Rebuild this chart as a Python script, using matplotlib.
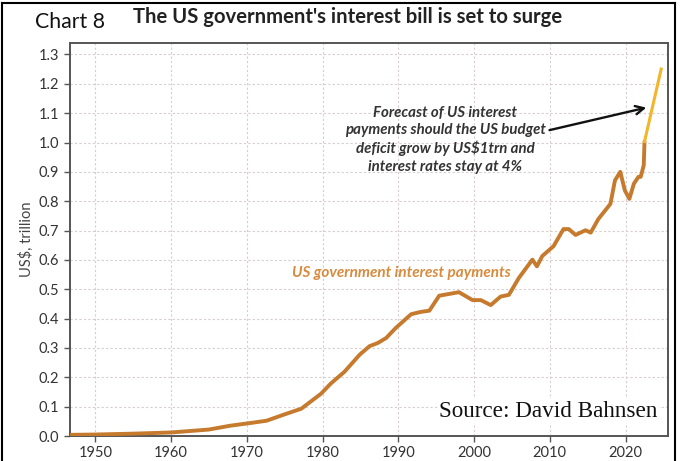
import matplotlib
matplotlib.use("Agg")
import matplotlib.pyplot as plt
from matplotlib.lines import Line2D

# Interest payments, US$ trillion
years = [1946.8, 1950, 1955, 1960, 1965, 1967.8, 1970.4, 1972.6, 1974.8,
         1977.2, 1979.8, 1981.1, 1982.9, 1984.9, 1986.2, 1987.3, 1988.4,
         1989.7, 1991.7, 1993.0, 1994.1, 1995.4, 1996.7, 1998.0, 1999.8,
         2000.9, 2002.2, 2003.5, 2004.6, 2005.9, 2007.7, 2008.3, 2009.0,
         2010.5, 2011.8, 2012.5, 2013.4, 2014.7, 2015.4, 2016.4, 2018.0,
         2018.6, 2019.3, 2019.9, 2020.5, 2021.1, 2021.7, 2022.0, 2022.4,
         2022.5]
payments = [0.004, 0.005, 0.008, 0.012, 0.022, 0.035, 0.044, 0.052, 0.072,
            0.093, 0.144, 0.179, 0.219, 0.277, 0.306, 0.317, 0.334,
            0.369, 0.415, 0.423, 0.427, 0.478, 0.484, 0.49, 0.463,
            0.463, 0.446, 0.475, 0.481, 0.538, 0.601, 0.578, 0.613,
            0.647, 0.705, 0.705, 0.685, 0.701, 0.693, 0.739, 0.791,
            0.871, 0.90, 0.837, 0.808, 0.86, 0.883, 0.883, 0.923,
            1.003]

forecast_years = [2022.5, 2024.7]
forecast_vals = [1.003, 1.25]

xticks = [1950, 1960, 1970, 1980, 1990, 2000, 2010, 2020]
yticks = [i / 10 for i in range(14)]

fig = plt.figure(figsize=(6.81, 4.61), dpi=100)
ax = fig.add_axes([69.5 / 681, 1 - 436 / 461, (668 - 69.5) / 681, (436 - 43.3) / 461])

ax.plot(years, payments, color="#c67a2e", lw=2.8, solid_capstyle="round", zorder=3)
ax.plot(forecast_years, forecast_vals, color="#f2b52b", lw=2.2, zorder=3)

ax.set_xlim(1946.6, 2025.6)
ax.set_ylim(0, 1.338)
ax.set_xticks(xticks)
ax.set_yticks(yticks)
ax.set_yticklabels([f"{v:.1f}" for v in yticks])
ax.grid(True, color="#d9cccc", lw=0.8, ls=(0, (2, 2)))
ax.set_axisbelow(True)

for s in ax.spines.values():
    s.set_color("#555555")
    s.set_linewidth(1.4)
ax.tick_params(colors="#555555", length=4, width=1, labelcolor="#333333")
for lab in ax.get_xticklabels() + ax.get_yticklabels():
    lab.set_fontfamily("Lato")
    lab.set_fontsize(10.5)

ax.set_ylabel("US$, trillion", family="Lato", fontsize=10.5, color="#444444", labelpad=3)

# annotations
ax.text(1996.2, 1.009,
        "Forecast of US interest\npayments should the US budget\n"
        "deficit grow by US$1trn and\ninterest rates stay at 4%",
        ha="center", va="center", family="Lato", fontsize=10.8,
        fontweight="bold", fontstyle="italic", color="#333333", linespacing=1.3)
ax.annotate("", xy=(2023.1, 1.121), xytext=(2009.6, 1.04),
            arrowprops=dict(arrowstyle="->,head_length=0.6,head_width=0.3",
                            color="#111111", lw=1.7))
ax.text(1990.4, 0.554, "US government interest payments", ha="center", va="center",
        family="Lato", fontsize=11, fontweight="bold", fontstyle="italic", color="#d88a3d")
ax.text(0.982, 0.063, "Source: David Bahnsen", transform=ax.transAxes,
        ha="right", va="center", family="Liberation Serif", fontsize=16.7, color="#111111",
        bbox=dict(facecolor="white", edgecolor="none", pad=1), zorder=5)

fig.text(348 / 681, 1 - 17 / 461, "The US government's interest bill is set to surge",
         ha="center", va="center", family="Lato", fontsize=14.6, fontweight="bold", color="#222222")
fig.text(35 / 681, 1 - 22 / 461, "Chart 8", ha="left", va="center",
         family="Lato", fontsize=15.3, color="#111111")

# outer frame of the picture
for xs, ys in [([2 / 681, 2 / 681], [0, 1 - 3 / 461]),
               ([2 / 681, 675 / 681], [1 - 3 / 461, 1 - 3 / 461]),
               ([675 / 681, 675 / 681], [0, 1 - 3 / 461])]:
    fig.add_artist(Line2D(xs, ys, color="black", lw=1.5))

fig.savefig("out.png", dpi=100)
